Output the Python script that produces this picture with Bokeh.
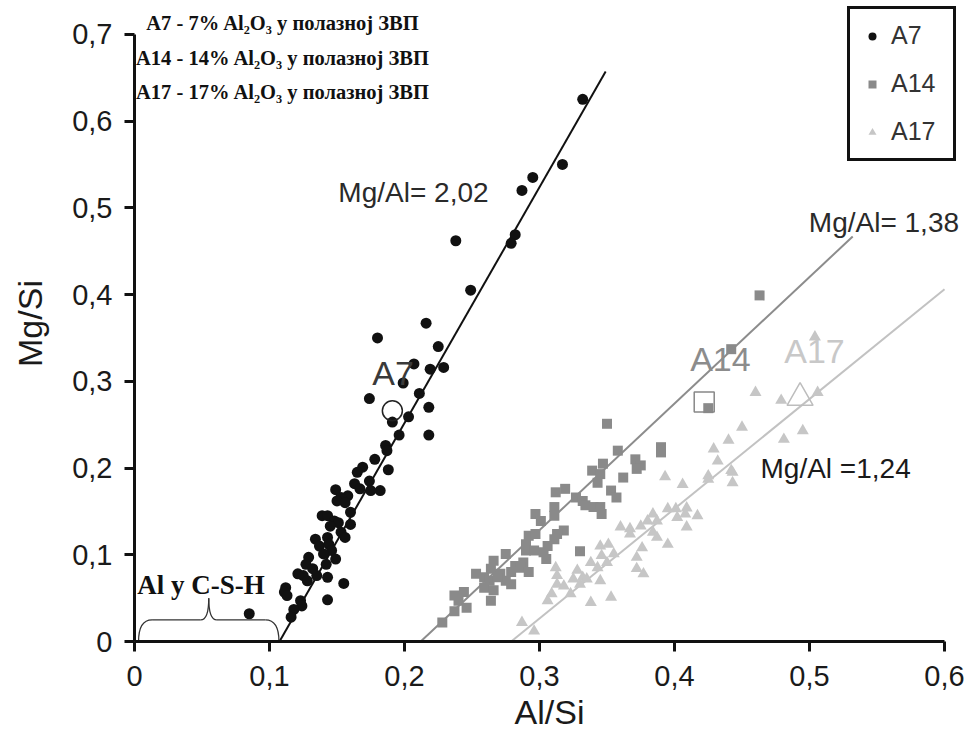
from bokeh.plotting import figure
from bokeh.models import (ColumnDataSource, Range1d, FixedTicker, CustomJSTickFormatter,
                          Label, Legend, LegendItem)
from bokeh.embed import file_html
from bokeh.resources import INLINE

# ---------------- data ----------------
a7_x = [0.332, 0.317, 0.295, 0.287, 0.282, 0.279, 0.238, 0.249, 0.216, 0.180,
        0.225, 0.207, 0.219, 0.229, 0.199, 0.174, 0.211, 0.218, 0.191, 0.203,
        0.218, 0.196, 0.186, 0.187, 0.178, 0.188, 0.169, 0.165, 0.174, 0.182,
        0.149, 0.163, 0.167, 0.158, 0.175, 0.153, 0.150, 0.156, 0.160, 0.139,
        0.143, 0.148, 0.151, 0.145, 0.160, 0.153, 0.156, 0.134, 0.143, 0.137,
        0.144, 0.146, 0.129, 0.140, 0.149, 0.142, 0.127, 0.132, 0.121, 0.125,
        0.135, 0.143, 0.128, 0.155, 0.112, 0.111, 0.113, 0.143, 0.123, 0.124,
        0.118, 0.116, 0.085]
a7_y = [0.625, 0.550, 0.535, 0.520, 0.469, 0.459, 0.462, 0.405, 0.367, 0.350,
        0.340, 0.320, 0.314, 0.316, 0.298, 0.280, 0.286, 0.270, 0.253, 0.259,
        0.238, 0.238, 0.226, 0.220, 0.210, 0.198, 0.201, 0.195, 0.185, 0.174,
        0.175, 0.182, 0.176, 0.168, 0.174, 0.166, 0.162, 0.160, 0.149, 0.145,
        0.145, 0.139, 0.137, 0.133, 0.135, 0.126, 0.120, 0.118, 0.120, 0.110,
        0.112, 0.105, 0.097, 0.101, 0.095, 0.089, 0.089, 0.084, 0.078, 0.076,
        0.076, 0.074, 0.070, 0.067, 0.062, 0.057, 0.053, 0.048, 0.047, 0.041,
        0.037, 0.028, 0.032]

a14_x = [0.463, 0.442, 0.425, 0.350, 0.358, 0.390, 0.390, 0.371, 0.375, 0.372,
         0.362, 0.347, 0.339, 0.345, 0.343, 0.353, 0.357, 0.312, 0.319, 0.327,
         0.332, 0.334, 0.340, 0.345, 0.346, 0.311, 0.311, 0.297, 0.301, 0.318,
         0.313, 0.311, 0.292, 0.297, 0.290, 0.306, 0.290, 0.296, 0.303, 0.305,
         0.330, 0.275, 0.266, 0.288, 0.282, 0.286, 0.264, 0.279, 0.292, 0.271,
         0.253, 0.259, 0.263, 0.275, 0.269, 0.279, 0.259, 0.266, 0.264, 0.237,
         0.244, 0.240, 0.246, 0.237, 0.228]
a14_y = [0.399, 0.337, 0.269, 0.251, 0.220, 0.224, 0.218, 0.210, 0.203, 0.199,
         0.189, 0.205, 0.197, 0.193, 0.183, 0.174, 0.166, 0.172, 0.176, 0.166,
         0.162, 0.157, 0.155, 0.155, 0.147, 0.155, 0.145, 0.147, 0.139, 0.128,
         0.124, 0.118, 0.122, 0.124, 0.112, 0.110, 0.105, 0.105, 0.103, 0.095,
         0.104, 0.101, 0.093, 0.091, 0.087, 0.085, 0.084, 0.080, 0.080, 0.078,
         0.078, 0.074, 0.070, 0.070, 0.074, 0.066, 0.062, 0.059, 0.047, 0.053,
         0.057, 0.047, 0.039, 0.035, 0.022]

a17_x = [0.504, 0.460, 0.479, 0.506, 0.450, 0.495, 0.481, 0.440, 0.429, 0.432,
         0.442, 0.425, 0.443, 0.443, 0.425, 0.393, 0.406, 0.395, 0.401, 0.409,
         0.417, 0.384, 0.380, 0.387, 0.375, 0.367, 0.360, 0.367, 0.384, 0.387,
         0.395, 0.409, 0.408, 0.402, 0.351, 0.345, 0.355, 0.346, 0.376, 0.372,
         0.350, 0.338, 0.343, 0.312, 0.372, 0.377, 0.328, 0.332, 0.325, 0.335,
         0.345, 0.313, 0.313, 0.318, 0.330, 0.309, 0.323, 0.306, 0.338, 0.353,
         0.287, 0.296]
a17_y = [0.351, 0.287, 0.278, 0.287, 0.247, 0.243, 0.233, 0.232, 0.222, 0.208,
         0.197, 0.191, 0.195, 0.183, 0.187, 0.190, 0.181, 0.153, 0.153, 0.154,
         0.145, 0.147, 0.139, 0.139, 0.133, 0.130, 0.132, 0.124, 0.126, 0.120,
         0.112, 0.132, 0.147, 0.143, 0.112, 0.110, 0.101, 0.099, 0.108, 0.097,
         0.091, 0.091, 0.085, 0.085, 0.084, 0.078, 0.082, 0.074, 0.072, 0.072,
         0.070, 0.076, 0.066, 0.064, 0.066, 0.055, 0.055, 0.047, 0.045, 0.051,
         0.022, 0.012]

# mean (open) markers
mean_x = {"A7": 0.191, "A14": 0.422, "A17": 0.493}
mean_y = {"A7": 0.266, "A14": 0.276, "A17": 0.281}

# regression lines: x-intercept, slope, x end
fit_a7 = (0.1074, 2.72, 0.349)
fit_a14 = (0.212, 1.459, 0.532)
fit_a17 = (0.279, 1.265, 0.600)

x_ticks = [0, 0.1, 0.2, 0.3, 0.4, 0.5, 0.6]
y_ticks = [0, 0.1, 0.2, 0.3, 0.4, 0.5, 0.6, 0.7]

header_lines = ["A7 - 7% Al\u2082O\u2083 у полазној ЗВП",
                "A14 - 14% Al\u2082O\u2083 у полазној ЗВП",
                "A17 - 17% Al\u2082O\u2083 у полазној ЗВП"]

# ---------------- styling ----------------
C7, C14, C17 = "#111111", "#8a8a8a", "#c6c6c6"
SANS = "Liberation Sans"
SERIF = "Liberation Serif"

p = figure(width=970, height=738, output_backend="svg", toolbar_location=None,
           x_range=Range1d(0, 0.6148), y_range=Range1d(0, 0.7332),
           min_border_left=134, min_border_right=6, min_border_top=5,
           min_border_bottom=97)
p.outline_line_color = None
p.xgrid.visible = False
p.ygrid.visible = False
p.background_fill_color = "white"
p.border_fill_color = "white"

fmt = CustomJSTickFormatter(code="const s = tick.toFixed(1).replace('.', ','); return s == '0,0' ? '0' : s;")
for ax, ticks in ((p.xaxis[0], x_ticks), (p.yaxis[0], y_ticks)):
    ax.ticker = FixedTicker(ticks=ticks, minor_ticks=[])
    ax.formatter = fmt
    ax.bounds = (ticks[0], ticks[-1])
    ax.axis_line_width = 3
    ax.axis_line_color = "#111111"
    ax.major_tick_line_width = 3
    ax.major_tick_line_color = "#111111"
    ax.major_tick_in = 0
    ax.major_tick_out = 10
    ax.minor_tick_line_color = None
    ax.major_label_text_font = SANS
    ax.major_label_text_font_size = "29px"
    ax.major_label_text_color = "#1a1a1a"
    ax.axis_label_text_font = SANS
    ax.axis_label_text_font_size = "34px"
    ax.axis_label_text_font_style = "normal"
    ax.axis_label_text_color = "#1a1a1a"

p.xaxis.axis_label = "Al/Si"
p.yaxis.axis_label = "Mg/Si"
p.xaxis.major_label_standoff = 14
p.xaxis.axis_label_standoff = 4
p.yaxis.major_label_standoff = 12
p.yaxis.axis_label_standoff = 20

# regression lines
for (x0, k, x1), col in ((fit_a7, C7), (fit_a14, "#8c8c8c"), (fit_a17, "#c2c2c2")):
    p.line([x0, x1], [0, k * (x1 - x0)], line_color=col, line_width=2)

# scatter data
r17 = p.scatter(a17_x, a17_y, marker="triangle", size=12, fill_color=C17, line_color=None)
r14 = p.scatter(a14_x, a14_y, marker="square", size=10, fill_color=C14, line_color=None)
r7 = p.scatter(a7_x, a7_y, marker="circle", size=11, fill_color=C7, line_color=None)

# open mean markers
p.scatter([mean_x["A7"]], [mean_y["A7"]], marker="circle", size=20,
          fill_color=None, line_color="#222222", line_width=1.5)
p.scatter([mean_x["A14"]], [mean_y["A14"]], marker="square", size=20,
          fill_color=None, line_color="#888888", line_width=1.5)
p.scatter([mean_x["A17"]], [mean_y["A17"]], marker="triangle", size=26,
          fill_color=None, line_color="#bdbdbd", line_width=1.5)

# labels
def lab(x, y, text, size, color, align="left", font=SANS, style="normal"):
    p.add_layout(Label(x=x, y=y, text=text, text_font=font, text_font_size=size,
                       text_color=color, text_align=align, text_baseline="middle",
                       text_font_style=style))

lab(0.151, 0.5175, "Mg/Al= 2,02", "28px", "#2a2a2a")
lab(0.4995, 0.483, "Mg/Al= 1,38", "28px", "#2a2a2a")
lab(0.4637, 0.200, "Mg/Al =1,24", "28px", "#1a1a1a")
lab(0.1915, 0.310, "A7", "34px", "#3a3a3a", align="center")
lab(0.434, 0.326, "A14", "34px", "#8c8c8c", align="center")
lab(0.5037, 0.335, "A17", "34px", "#c8c8c8", align="center")
lab(0.002, 0.065, "Al у C-S-H", "27px", "#111111", font=SERIF, style="bold")
for i, (t, yy) in enumerate(zip(header_lines, (0.7136, 0.673, 0.634))):
    lab(0.110, yy, t, "20.5px", "#111111", align="center", font=SERIF, style="bold")

# brace under "Al у C-S-H"
bl, br, bh, bt = 0.003, 0.107, 0.025, 0.050
bm = (bl + br) / 2
d = 0.010
p.quadratic(x0=[bl, bm - d * 0.6, bm, br],
            y0=[0, bh, bt, 0],
            x1=[bl + d, bm, bm + d * 0.6, br - d],
            y1=[bh, bt, bh, bh],
            cx=[bl, bm, bm, br],
            cy=[bh, bh, bh, bh],
            line_color="#333333", line_width=1.3)
p.segment(x0=[bl + d, bm + d * 0.6], y0=[bh, bh], x1=[bm - d * 0.6, br - d], y1=[bh, bh],
          line_color="#333333", line_width=1.3)

legend = Legend(items=[LegendItem(label="A7", renderers=[r7]),
                       LegendItem(label="A14", renderers=[r14]),
                       LegendItem(label="A17", renderers=[r17])],
                location=(713, 480), orientation="vertical",
                border_line_color="#111111", border_line_width=3, border_line_alpha=1.0,
                background_fill_color="white", background_fill_alpha=1.0,
                label_text_font=SANS, label_text_font_size="25px",
                label_text_color="#333333", glyph_width=20, glyph_height=20,
                label_height=28, label_width=50, label_standoff=9,
                spacing=19, padding=12, margin=0)
p.add_layout(legend)

open("out.html", "w").write(file_html(p, INLINE))
